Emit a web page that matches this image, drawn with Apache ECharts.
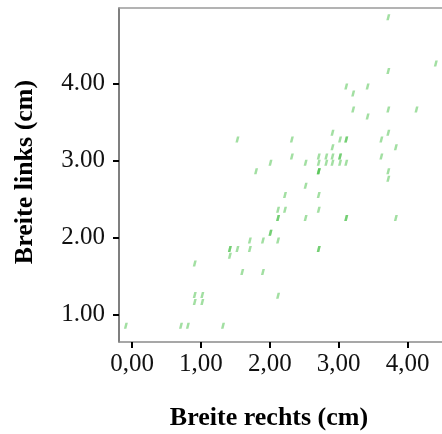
<!DOCTYPE html>
<html>
<head>
<meta charset="utf-8">
<script src="https://cdn.jsdelivr.net/npm/echarts@6/dist/echarts.min.js"></script>
<style>
  html, body { margin: 0; padding: 0; background: #fff; }
  #chart { width: 442px; height: 434px; }
</style>
</head>
<body>
<div id="chart"></div>
<script>
// Width measurements, right vs. left (cm); repeated pairs are overlapping cases
var breiteRechts = [
  3.72, 4.41, 3.72, 3.11, 3.42, 3.21, 3.21, 3.72, 4.13, 3.42,
  2.91, 3.72, 1.53, 2.32, 3.02, 3.11, 3.11, 3.62, 2.91, 3.83,
  2.32, 2.71, 2.82, 2.91, 3.02, 3.02, 3.62, 2.01, 2.52, 2.71,
  2.82, 2.91, 3.02, 3.11, 1.80, 2.71, 2.71, 2.71, 3.72, 3.72,
  2.52, 2.22, 2.71, 2.12, 2.22, 2.71, 2.12, 2.12, 2.52, 3.11,
  3.11, 3.83, 2.01, 2.01, 1.71, 1.90, 2.12, 1.42, 1.42, 1.53,
  1.71, 2.71, 2.71, 1.42, 0.91, 1.60, 1.90, 2.12, 0.91, 1.02,
  0.91, 1.02, 1.32, -0.09, 0.71, 0.81
];
var breiteLinks = [
  4.86, 4.26, 4.16, 3.96, 3.96, 3.87, 3.66, 3.66, 3.66, 3.57,
  3.36, 3.36, 3.27, 3.27, 3.27, 3.27, 3.27, 3.27, 3.17, 3.17,
  3.05, 3.05, 3.05, 3.05, 3.05, 3.05, 3.05, 2.97, 2.97, 2.97,
  2.97, 2.97, 2.97, 2.97, 2.86, 2.86, 2.86, 2.86, 2.86, 2.76,
  2.67, 2.55, 2.55, 2.36, 2.36, 2.36, 2.25, 2.25, 2.25, 2.25,
  2.25, 2.25, 2.06, 2.06, 1.96, 1.96, 1.96, 1.85, 1.85, 1.85,
  1.85, 1.85, 1.85, 1.76, 1.66, 1.55, 1.55, 1.24, 1.25, 1.25,
  1.16, 1.16, 0.85, 0.85, 0.85, 0.85
];
var xTickValues = [0, 1, 2, 3, 4];
var yTickValues = [1, 2, 3, 4];
var xTitle = 'Breite rechts (cm)';
var yTitle = 'Breite links (cm)';

var points = breiteRechts.map(function (x, i) { return [x, breiteLinks[i]]; });

var serif = '"Liberation Serif", "Times New Roman", serif';
var chart = echarts.init(document.getElementById('chart'), null, { renderer: 'canvas' });

var xMin = -0.19, xMax = 4.5;

chart.setOption({
  animation: false,
  backgroundColor: '#ffffff',
  grid: {
    left: 119, right: 0, top: 8, bottom: 92,
    outerBoundsMode: 'none', containLabel: false, show: false
  },
  xAxis: [
    {
      type: 'value', min: xMin, max: xMax, position: 'bottom',
      axisLine: { show: true, onZero: false, lineStyle: { color: '#8a8a8a', width: 1.5 } },
      axisTick: { show: true, inside: false, length: 6, customValues: xTickValues,
                  lineStyle: { color: '#000', width: 2 } },
      axisLabel: {
        customValues: xTickValues, margin: 10,
        fontFamily: serif, fontSize: 25, color: '#111',
        formatter: function (v) { return v.toFixed(2).replace('.', ','); }
      },
      splitLine: { show: false }
    },
    {
      // frame line along the top of the plot
      type: 'value', min: xMin, max: xMax, position: 'top',
      axisLine: { show: true, onZero: false, lineStyle: { color: '#9a9a9a', width: 1.5 } },
      axisTick: { show: false }, axisLabel: { show: false }, splitLine: { show: false }
    }
  ],
  yAxis: {
    type: 'value', min: 0.64, max: 4.98,
    axisLine: { show: true, onZero: false, lineStyle: { color: '#555', width: 1.5 } },
    axisTick: { show: true, inside: false, length: 6, customValues: yTickValues,
                lineStyle: { color: '#000', width: 2 } },
    axisLabel: {
      customValues: yTickValues, margin: 14,
      fontFamily: serif, fontSize: 25, color: '#111',
      formatter: function (v) { return v.toFixed(2); }
    },
    splitLine: { show: false }
  },
  graphic: [
    {
      type: 'text', x: 269, y: 418,
      style: { text: xTitle, font: 'bold 26px ' + serif, fill: '#000',
               textAlign: 'center', textVerticalAlign: 'middle' }
    },
    {
      type: 'text', x: 25, y: 172, rotation: Math.PI / 2,
      style: { text: yTitle, font: 'bold 26px ' + serif, fill: '#000',
               textAlign: 'center', textVerticalAlign: 'middle' }
    }
  ],
  series: [{
    type: 'scatter',
    xAxisIndex: 0,
    data: points,
    // small slanted tick-like glyph
    symbol: 'path://M1.5,0 L4,0 L2.5,6 L0,6 Z',
    symbolSize: [4, 6],
    itemStyle: { color: '#45c045', opacity: 0.5 },
    silent: true
  }]
});
</script>
</body>
</html>
